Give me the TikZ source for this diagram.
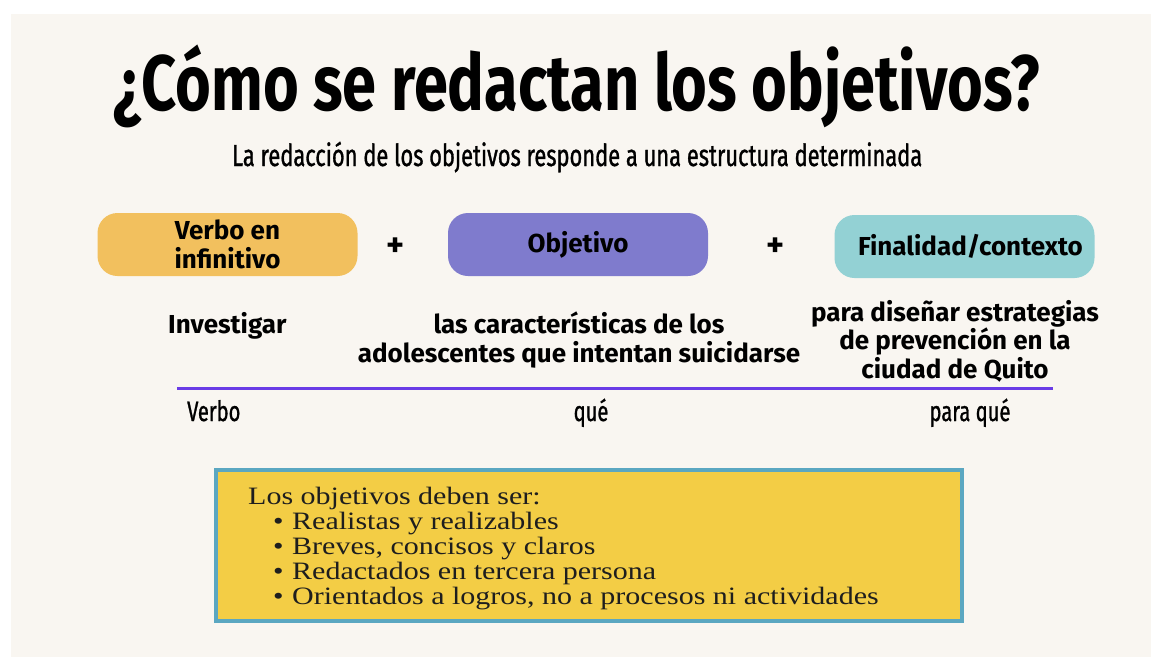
\documentclass[tikz,border=0pt]{standalone}
\usepackage{fontspec}
\setmainfont{Liberation Serif}[FakeStretch=1.2]
\newfontfamily\roundfont{Fira Sans}[FakeStretch=0.78]
\newfontfamily\pillfont{Fira Sans}
\newfontfamily\condfont{Fira Sans}[FakeStretch=0.72, FakeBold=1]
\usetikzlibrary{positioning}

\definecolor{paper}{HTML}{F9F6F1}
\definecolor{verbofill}{HTML}{F2C05E}
\definecolor{objfill}{HTML}{7F7BCD}
\definecolor{finfill}{HTML}{93D1D4}
\definecolor{rulecol}{HTML}{6A3CE6}
\definecolor{listfill}{HTML}{F3CD45}
\definecolor{listline}{HTML}{5BA7C1}
\definecolor{ink}{HTML}{1E1E1E}

\tikzset{
  pill/.style={rounded corners=20pt, minimum width=260pt, minimum height=63pt,
    inner sep=0pt, align=center, font=\pillfont\bfseries\fontsize{26}{29}\selectfont},
  bodytext/.style={inner sep=0pt, align=center, font=\pillfont\bfseries\fontsize{26}{28.5}\selectfont},
  tagtext/.style={inner sep=0pt, anchor=base, font=\condfont\fontsize{28}{28}\selectfont},
  listbox/.style={draw=listline, line width=4pt, fill=listfill,
    minimum width=746pt, minimum height=151pt, inner sep=0pt}
}

\begin{document}
\begin{tikzpicture}[x=1pt, y=-1pt]

%paper
\useasboundingbox (0,0) rectangle (1151,664);
\fill[white] (0,0) rectangle (1151,664);
\fill[paper] (11,14) rectangle (1151,657);

%title
\node[inner sep=0pt, anchor=base west] (titulo) at (113,110)
  {\resizebox{927pt}{!}{\roundfont\bfseries\fontsize{70}{70}\selectfont ¿Cómo se redactan los objetivos?}};
\node[inner sep=0pt, anchor=base west] (sub) at (232,166)
  {\resizebox{690pt}{!}{\condfont\fontsize{23}{23}\selectfont La redacción de los objetivos responde a una estructura determinada}};

%boxes
\node[pill, fill=verbofill] (verbo) at (227.5,244.5) {Verbo en\\infinitivo};
\node[pill, fill=objfill] (obj) at (578,244.5) {Objetivo};
\node[pill, fill=finfill] (fin) at (964.5,246.5) {\hspace*{12pt}Finalidad/contexto};
\node[bodytext, font=\pillfont\bfseries\fontsize{34}{34}\selectfont] (mas1) at (396,247) {+};
\node[bodytext, font=\pillfont\bfseries\fontsize{34}{34}\selectfont] (mas2) at (776,247) {+};

%examples
\node[bodytext, anchor=base west] (ejverbo) at (168,333) {Investigar};
\node[bodytext] (ejobj) at (579,340) {las características de los\\adolescentes que intentan suicidarse};
\node[bodytext] (ejfin) at (955,341) {para diseñar estrategias\\de prevención en la\\ciudad de Quito};

%rule
\coordinate (rulel) at (177,388);
\coordinate (ruler) at (1053,388);
\draw[rulecol, line width=3pt] (rulel) -- (ruler);

%tags
\node[tagtext, anchor=base west] (tverbo) at (187,421) {Verbo};
\node[tagtext] (tque) at (591,421) {qué};
\node[tagtext] (tpara) at (970,421) {para qué};

%list
\node[listbox] (rasgos) at (589,545.5) {};
\node[inner sep=0pt, anchor=north west, align=left, text=ink,
  font=\fontsize{25}{25}\selectfont] (lista) at (248,487)
  {Los objetivos deben ser:\\
   \hspace*{25pt}\makebox[19pt][l]{\textbullet}Realistas y realizables\\
   \hspace*{25pt}\makebox[19pt][l]{\textbullet}Breves, concisos y claros\\
   \hspace*{25pt}\makebox[19pt][l]{\textbullet}Redactados en tercera persona\\
   \hspace*{25pt}\makebox[19pt][l]{\textbullet}Orientados a logros, no a procesos ni actividades};

\end{tikzpicture}
\end{document}
